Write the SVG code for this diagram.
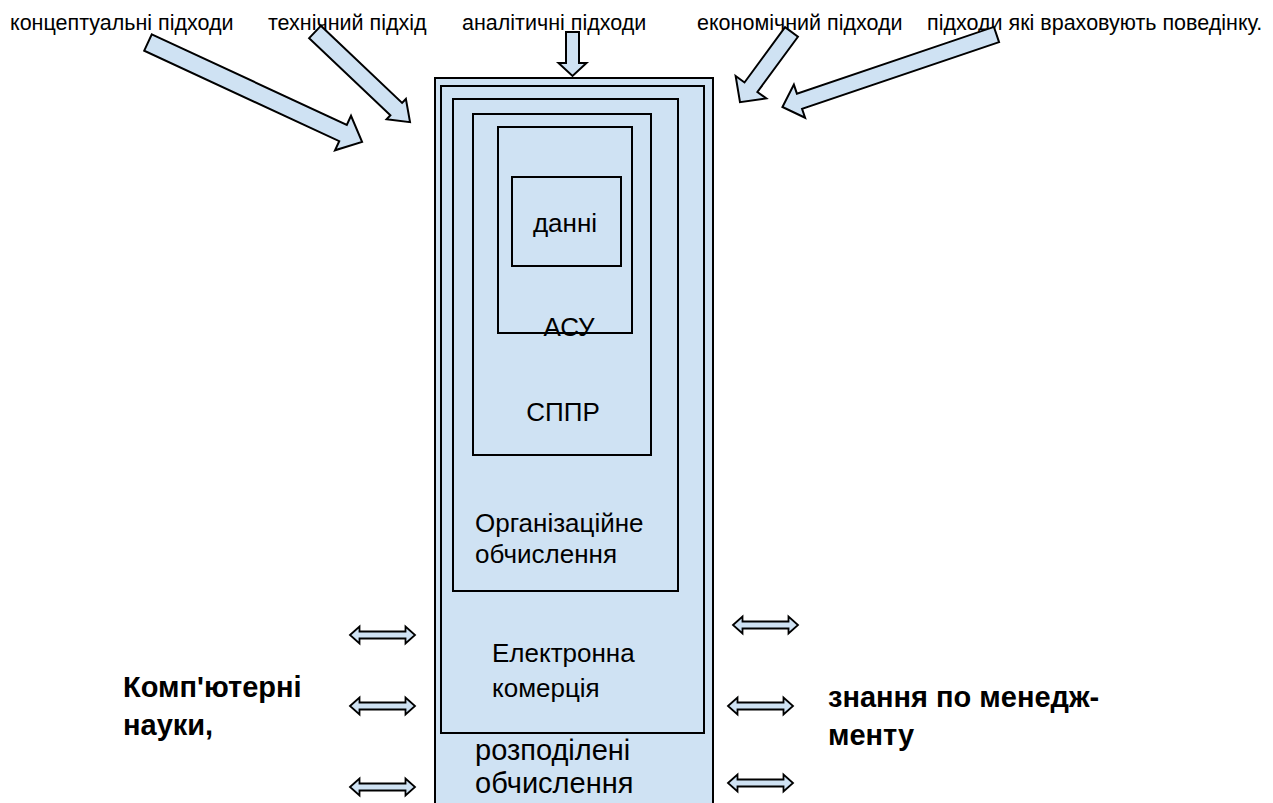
<svg xmlns="http://www.w3.org/2000/svg" xmlns:xlink="http://www.w3.org/1999/xlink" width="1273" height="803" viewBox="0 0 1273 803">
<style>
.bx{fill:#cfe2f3;stroke:#000;stroke-width:2}
.ar{fill:#cfe2f3;stroke:#000;stroke-width:2;stroke-linejoin:miter}
.da{fill:#cfe2f3;stroke:#000;stroke-width:1.8}
text{font-family:"Liberation Sans",Arial,sans-serif;fill:#000}
.top{font-size:21.5px}
.lbl{font-size:26px}
.lbl2{font-size:29px}
.big{font-size:29px;font-weight:bold}
</style>
<defs>
<path id="dbl" d="M0,0 L9.5,-8.5 L9.5,-3.5 L55.5,-3.5 L55.5,-8.5 L65,0 L55.5,8.5 L55.5,3.5 L9.5,3.5 L9.5,8.5 Z"/>
</defs>
<rect width="1273" height="803" fill="#fff"/>
<g id="n-rozpodileni"><rect class="bx" x="435" y="78" width="278" height="740"/>
<text class="lbl2" x="475" y="760">розподілені</text>
<text class="lbl2" x="475" y="793">обчислення</text></g>
<g id="n-elektronna"><rect class="bx" x="441" y="86" width="263" height="647"/>
<text class="lbl" x="492" y="662">Електронна</text>
<text class="lbl" x="492" y="697">комерція</text></g>
<g id="n-orhanizatsiine"><rect class="bx" x="453" y="99" width="225" height="492"/>
<text class="lbl" x="475" y="532">Організаційне</text>
<text class="lbl" x="475" y="563">обчислення</text></g>
<g id="n-sppr"><rect class="bx" x="473" y="114" width="178" height="341"/>
<text class="lbl" x="563" y="421" text-anchor="middle">СППР</text></g>
<g id="n-asu"><rect class="bx" x="498" y="127" width="134" height="206"/>
<text class="lbl" x="569" y="336" text-anchor="middle">АСУ</text></g>
<g id="n-danni"><rect class="bx" x="512" y="177" width="109" height="89"/>
<text class="lbl" x="565" y="232" text-anchor="middle">данні</text></g>
<g id="labels-top">
<text class="top" x="10" y="30">концептуальні підходи</text>
<text class="top" x="268" y="30">технічний підхід</text>
<text class="top" x="462" y="30">аналітичні підходи</text>
<text class="top" x="697" y="30">економічний підходи</text>
<text class="top" x="927" y="30">підходи які враховують поведінку.</text>
</g>
<g id="labels-side">
<text class="big" x="123" y="697">Комп'ютерні</text>
<text class="big" x="123" y="735">науки,</text>
<text class="big" x="828" y="707">знання по менедж-</text>
<text class="big" x="828" y="745">менту</text>
</g>
<g id="connectors">
<polygon class="ar" transform="translate(148,42.5) rotate(24.9)" points="0,-9 215,-9 215,-19 236,0 215,19 215,9 0,9"/>
<polygon class="ar" transform="translate(315,32) rotate(43.5)" points="0,-8.5 112,-8.5 112,-14 131,0 112,14 112,8.5 0,8.5"/>
<polygon class="ar" transform="translate(572.5,32) rotate(90)" points="0,-6.5 31,-6.5 31,-14 44,0 31,14 31,6.5 0,6.5"/>
<polygon class="ar" transform="translate(791.5,32) rotate(126.3)" points="0,-8 68.5,-8 68.5,-19 87,0 68.5,19 68.5,8 0,8"/>
<polygon class="ar" transform="translate(996.5,34.5) rotate(161.3)" points="0,-8 208,-8 208,-17.5 226,0 208,17.5 208,8 0,8"/>
<use class="da" xlink:href="#dbl" x="350" y="635"/>
<use class="da" xlink:href="#dbl" x="350" y="706"/>
<use class="da" xlink:href="#dbl" x="350" y="787"/>
<use class="da" xlink:href="#dbl" x="733" y="625"/>
<use class="da" xlink:href="#dbl" x="728" y="706"/>
<use class="da" xlink:href="#dbl" x="728" y="783"/>
</g>
</svg>
